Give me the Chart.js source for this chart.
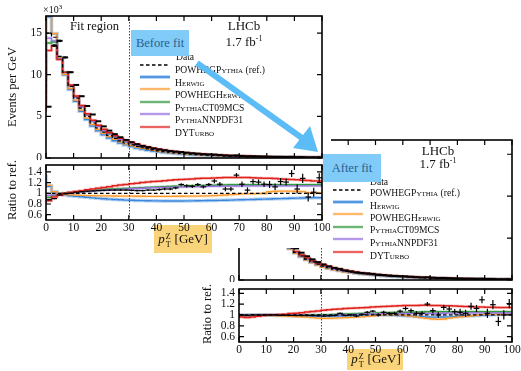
<!DOCTYPE html>
<html><head><meta charset="utf-8">
<script src="https://cdn.jsdelivr.net/npm/chart.js@4"></script>
<style>
body{margin:0;width:521px;height:371px;overflow:hidden;background:#fff;font-family:"Liberation Serif","DejaVu Serif",serif;position:relative;color:#111}
.a{position:absolute;white-space:nowrap}
canvas{position:absolute}
.sc{font-variant:small-caps}
.rot{transform:translate(-50%,-50%) rotate(-90deg);font-size:12.5px}
.leg{font-size:9.6px;line-height:1}
.ss{display:inline-block;font-size:0.62em;line-height:1;vertical-align:-0.45em;margin-left:1px;margin-right:4px}
.ss span{display:block}
.ybox{position:absolute;background:#f9d47a;mix-blend-mode:multiply}
.bbox{position:absolute;background:#80cbf8;color:#2a5f8c;font-size:12.5px;text-align:center}
</style></head><body>
<script>
// ---------------- data ----------------
const edges=[0,2,4,6,8,10,12,14,16,18,20,22,24,26,28,30,32,34,36,38,40,42,44,46,48,50,52,54,56,58,60,62,64,66,68,70,72,74,76,78,80,82,84,86,88,90,92,94,96,98,100];
const xTicks=[0,10,20,30,40,50,60,70,80,90,100];
const mainYTicks=[0,5,10,15];
const ratioYTicks=[0.6,0.8,1,1.2,1.4];
const ratioYLabels=['0.6','0.8','1','1.2','1.4'];
const fitEdge=30;
// reference POWHEGPythia before fit (x10^3 events per GeV)
const refBefore=[7.0,15.0,14.5,12.2,10.3,8.6,7.2,6.0,5.0,4.2,
 3.6,3.1,2.7,2.35,2.05,1.8,1.58,1.39,1.23,1.09,
 0.97,0.86,0.77,0.69,0.62,0.56,0.50,0.45,0.41,0.37,
 0.335,0.305,0.278,0.253,0.23,0.21,0.192,0.176,0.161,0.148,
 0.136,0.125,0.115,0.106,0.098,0.091,0.084,0.078,0.072,0.067];
// reference after fit
const refAfter=[6.2,13.6,14.1,12.1,10.3,8.75,7.4,6.24,5.22,4.41,
 3.8,3.29,2.86,2.49,2.17,1.9,1.66,1.46,1.29,1.15,
 1.03,0.925,0.835,0.755,0.685,0.625,0.568,0.515,0.47,0.428,
 0.39,0.357,0.327,0.299,0.274,0.252,0.232,0.214,0.197,0.182,
 0.168,0.155,0.143,0.132,0.122,0.113,0.105,0.097,0.09,0.083];
// ratios to reference, before fit
const herwigB=[1.35,1.13,1.03,0.99,0.97,0.955,0.945,0.935,0.925,0.915,
 0.905,0.897,0.890,0.884,0.878,0.873,0.869,0.866,0.863,0.861,
 0.859,0.858,0.857,0.857,0.857,0.857,0.858,0.859,0.860,0.862,
 0.864,0.866,0.868,0.870,0.873,0.876,0.879,0.882,0.885,0.888,
 0.891,0.894,0.897,0.900,0.903,0.906,0.909,0.912,0.914,0.916];
const powhegHerwigB=[1.15,1.15,1.03,0.99,0.975,0.97,0.965,0.96,0.958,0.955,
 0.953,0.951,0.95,0.949,0.948,0.947,0.946,0.945,0.945,0.944,
 0.944,0.944,0.944,0.944,0.945,0.945,0.946,0.947,0.948,0.95,
 0.953,0.957,0.962,0.968,0.975,0.982,0.988,0.99,0.992,0.994,
 0.996,1.03,1.035,1.04,1.04,1.04,1.035,1.03,1.01,1.005];
const ct09B=[0.90,0.92,0.96,0.98,1.00,1.01,1.02,1.03,1.04,1.05,
 1.06,1.07,1.075,1.08,1.085,1.09,1.095,1.10,1.105,1.11,
 1.115,1.12,1.123,1.126,1.13,1.133,1.136,1.14,1.143,1.146,
 1.15,1.152,1.154,1.156,1.158,1.16,1.16,1.16,1.16,1.16,
 1.16,1.16,1.16,1.16,1.16,1.16,1.16,1.16,1.16,1.16];
const nnpdfB=[0.95,0.96,0.97,0.98,0.995,1.005,1.015,1.025,1.035,1.045,
 1.055,1.06,1.065,1.07,1.075,1.08,1.085,1.09,1.095,1.10,
 1.105,1.108,1.111,1.114,1.117,1.12,1.122,1.124,1.126,1.128,
 1.13,1.132,1.134,1.135,1.136,1.137,1.138,1.139,1.14,1.14,
 1.14,1.14,1.14,1.14,1.14,1.14,1.14,1.14,1.14,1.14];
const dyturboB=[0.81,0.86,0.93,0.97,1.00,1.02,1.035,1.05,1.065,1.08,
 1.095,1.11,1.125,1.14,1.155,1.167,1.178,1.19,1.20,1.21,
 1.22,1.228,1.236,1.244,1.252,1.258,1.264,1.27,1.275,1.28,
 1.284,1.288,1.291,1.294,1.296,1.297,1.296,1.294,1.291,1.288,
 1.284,1.28,1.275,1.27,1.265,1.258,1.252,1.245,1.238,1.232];
const dataB=[0.88,0.90,0.97,0.99,1.00,1.02,1.03,1.04,1.045,1.05,
 1.055,1.06,1.06,1.06,1.06,1.055,1.05,1.05,1.06,1.06,
 1.07,1.08,1.08,1.10,1.165,1.14,1.13,1.165,1.12,1.165,
 1.23,1.17,1.08,1.08,1.34,1.17,1.06,1.22,1.21,1.17,
 1.165,1.12,1.22,1.21,1.37,1.08,1.28,0.93,1.02,1.29];
const dataErr=[0.01,0.01,0.01,0.01,0.01,0.01,0.01,0.01,0.01,0.01,
 0.015,0.015,0.015,0.015,0.015,0.015,0.015,0.015,0.015,0.015,
 0.022,0.022,0.022,0.022,0.022,0.03,0.03,0.03,0.03,0.03,
 0.04,0.04,0.04,0.04,0.04,0.05,0.05,0.05,0.05,0.05,
 0.065,0.065,0.065,0.065,0.065,0.085,0.085,0.085,0.085,0.085];
// ratios to reference, after fit
const herwigA=[1.0,0.99,0.99,1.0,1.0,1.0,1.0,0.995,0.99,0.99,
 0.985,0.982,0.98,0.978,0.976,0.975,0.975,0.976,0.978,0.98,
 0.983,0.986,0.99,0.993,0.996,0.998,1.0,1.0,0.998,0.995,
 0.99,0.985,0.978,0.972,0.966,0.962,0.96,0.96,0.962,0.965,
 0.97,0.975,0.98,0.985,0.99,0.995,1.0,1.005,1.01,1.015];
const powhegHerwigA=[1.0,1.0,1.0,1.0,1.0,1.0,0.995,0.99,0.985,0.98,
 0.975,0.97,0.965,0.96,0.95,0.94,0.935,0.935,0.94,0.945,
 0.95,0.955,0.96,0.965,0.975,0.985,0.995,1.0,1.0,1.0,
 1.0,0.99,0.98,0.965,0.95,0.935,0.925,0.92,0.925,0.94,
 0.955,0.965,0.975,0.985,0.995,1.005,1.01,1.01,1.01,1.01];
const ct09A=[1.0,1.0,1.0,1.0,1.0,1.0,1.0,1.0,1.0,1.0,
 1.0,1.0,1.0,1.0,1.0,1.0,1.003,1.006,1.01,1.013,
 1.016,1.02,1.023,1.026,1.03,1.033,1.036,1.039,1.042,1.045,
 1.048,1.05,1.052,1.054,1.056,1.058,1.06,1.06,1.06,1.06,
 1.06,1.06,1.06,1.06,1.06,1.06,1.06,1.06,1.06,1.06];
const nnpdfA=[1.0,1.0,1.0,1.0,1.0,1.0,1.0,1.0,1.0,1.0,
 1.0,1.0,0.998,0.996,0.994,0.992,0.992,0.994,0.996,1.0,
 1.004,1.008,1.012,1.015,1.018,1.02,1.022,1.024,1.025,1.026,
 1.027,1.028,1.028,1.028,1.028,1.029,1.03,1.031,1.032,1.033,
 1.034,1.035,1.036,1.037,1.038,1.039,1.04,1.04,1.04,1.04];
const dyturboA=[1.03,0.96,0.955,0.96,0.975,0.99,1.0,1.005,1.01,1.015,
 1.025,1.032,1.04,1.055,1.065,1.075,1.085,1.095,1.105,1.112,
 1.118,1.124,1.13,1.135,1.14,1.146,1.152,1.157,1.162,1.166,
 1.17,1.173,1.175,1.177,1.178,1.178,1.177,1.175,1.172,1.168,
 1.164,1.16,1.156,1.152,1.148,1.145,1.143,1.141,1.14,1.14];
const dataA=[1.0,0.99,1.0,1.0,1.0,1.0,1.0,0.995,0.995,0.99,
 0.99,0.99,0.99,0.99,0.985,0.98,0.985,0.99,1.03,0.99,
 1.0,0.98,1.01,1.05,1.07,1.0,1.05,1.03,1.03,1.07,
 1.12,1.08,1.03,1.03,1.2,1.08,1.0,1.14,1.11,1.06,
 1.05,1.03,1.16,1.12,1.28,1.03,1.19,0.88,1.0,1.21];
</script>

<!-- ============ plot 2 (after fit) ============ -->
<canvas id="m2" width="331" height="152" style="left:190px;top:130px"></canvas>
<canvas id="r2" width="331" height="89" style="left:190px;top:282px"></canvas>
<div class="a" style="left:207px;top:314px"><div class="rot">Ratio to ref.</div></div>
<div class="a" style="left:438px;top:143px;transform:translateX(-50%);font-size:13px">LHCb</div>
<div class="a" style="left:438px;top:156px;transform:translateX(-50%);font-size:13px">1.7 fb<sup style="font-size:8px">-1</sup></div>
<svg class="a" style="left:330px;top:170px" width="40" height="95" id="lg2"></svg>
<div class="a leg" style="left:370px;top:177px">Data</div>
<div class="a leg" style="left:370px;top:188px">POWHEG<span class="sc">Pythia</span> (ref.)</div>
<div class="a leg sc" style="left:370px;top:201px">Herwig</div>
<div class="a leg" style="left:370px;top:213px">POWHEG<span class="sc">Herwig</span></div>
<div class="a leg" style="left:370px;top:225px"><span class="sc">Pythia</span>CT09MCS</div>
<div class="a leg" style="left:370px;top:238px"><span class="sc">Pythia</span>NNPDF31</div>
<div class="a leg" style="left:370px;top:251px">DY<span class="sc">Turbo</span></div>
<div class="a" style="left:376px;top:351px;transform:translateX(-50%);font-size:13px"><i>p</i><span class="ss"><span>Z</span><span>T</span></span>[GeV]</div>

<!-- ============ plot 1 (before fit) ============ -->
<div class="a" style="left:0;top:0;width:331px;height:248px;background:#fff">
<canvas id="m1" width="330" height="160" style="left:0;top:0"></canvas>
<canvas id="r1" width="330" height="80" style="left:0;top:160px"></canvas>
<div class="a" style="left:43px;top:3px;font-size:10px">×10<sup style="font-size:7px">3</sup></div>
<div class="a" style="left:12px;top:87px"><div class="rot">Events per GeV</div></div>
<div class="a" style="left:12px;top:190px"><div class="rot">Ratio to ref.</div></div>
<div class="a" style="left:70px;top:19px;font-size:12.5px">Fit region</div>
<div class="a" style="left:244px;top:18px;transform:translateX(-50%);font-size:13px">LHCb</div>
<div class="a" style="left:244px;top:34px;transform:translateX(-50%);font-size:13px">1.7 fb<sup style="font-size:8px">-1</sup></div>
<svg class="a" style="left:137px;top:45px" width="40" height="95" id="lg1"></svg>
<div class="a leg" style="left:176px;top:52px">Data</div>
<div class="a leg" style="left:175px;top:65px">POWHEG<span class="sc">Pythia</span> (ref.)</div>
<div class="a leg sc" style="left:175px;top:78px">Herwig</div>
<div class="a leg" style="left:175px;top:90px">POWHEG<span class="sc">Herwig</span></div>
<div class="a leg" style="left:175px;top:103px"><span class="sc">Pythia</span>CT09MCS</div>
<div class="a leg" style="left:175px;top:115px"><span class="sc">Pythia</span>NNPDF31</div>
<div class="a leg" style="left:175px;top:128px">DY<span class="sc">Turbo</span></div>
<div class="a" style="left:183px;top:231px;transform:translateX(-50%);font-size:13px"><i>p</i><span class="ss"><span>Z</span><span>T</span></span>[GeV]</div>
</div>

<!-- ============ overlays ============ -->
<div class="ybox" style="left:154px;top:225px;width:58px;height:28px"></div>
<div class="ybox" style="left:347px;top:349px;width:56px;height:21px"></div>
<div class="bbox" style="left:131px;top:30px;width:58px;height:26px;line-height:26px">Before fit</div>
<div class="bbox" style="left:323px;top:154px;width:58px;height:28px;line-height:28px">After fit</div>
<svg class="a" style="left:0;top:0" width="521" height="371">
 <line x1="197" y1="63" x2="302" y2="138" stroke="#5cbdf6" stroke-width="6"/>
 <polygon points="318,152 293,148 310,126" fill="#5cbdf6"/>
</svg>

<script>
const styles={
  herwig:{c:'#3a86dc',band:'rgba(100,165,230,0.45)',w:1.4},
  phw:{c:'#ff9a2a',band:'rgba(255,180,100,0.35)',w:1.3},
  ct09:{c:'#2f9a3c',band:'rgba(80,170,90,0.35)',w:1.5},
  nnpdf:{c:'#9b6fe0',band:'rgba(170,140,230,0.35)',w:1.3},
  dyt:{c:'#e0221c',band:'rgba(240,120,120,0.4)',w:1.5}
};
function legend(id){
  const s=document.getElementById(id), y0=[7,20,32,44,57,69,82];
  let h=`<line x1="18" y1="${y0[0]-5}" x2="18" y2="${y0[0]+4}" stroke="#000" stroke-width="1.3"/>`;
  h+=`<line x1="3" y1="${y0[1]}" x2="33" y2="${y0[1]}" stroke="#000" stroke-width="1.3" stroke-dasharray="3.5,2.5"/>`;
  ['herwig','phw','ct09','nnpdf','dyt'].forEach((k,i)=>{const st=styles[k];const y=y0[i+2];
    h+=`<line x1="3" y1="${y}" x2="33" y2="${y}" stroke="${st.band}" stroke-width="${k==='herwig'?4:3}"/>`;
    h+=`<line x1="3" y1="${y}" x2="33" y2="${y}" stroke="${st.c}" stroke-width="${k==='herwig'?1.6:1.2}"/>`;});
  s.innerHTML=h;
}
legend('lg1');legend('lg2');

const hep={id:'hep',
  afterDatasetsDraw(chart,args,o){
    const {ctx,chartArea:a,scales:{x,y}}=chart;
    ctx.save();ctx.beginPath();ctx.rect(a.left,a.top,a.right-a.left,a.bottom-a.top);ctx.clip();
    chart.data.datasets.forEach((ds,di)=>{ if(!ds.errors) return;
      const meta=chart.getDatasetMeta(di);
      ctx.strokeStyle='#000';ctx.lineWidth=ds.errW;
      meta.data.forEach((p,i)=>{const v=ds.data[i].y,e=ds.errors[i];
        ctx.beginPath();ctx.moveTo(p.x,y.getPixelForValue(v+e));ctx.lineTo(p.x,y.getPixelForValue(v-e));ctx.stroke();});
    });
    const xf=Math.round(x.getPixelForValue(o.vline))+0.5;
    ctx.strokeStyle='#444';ctx.lineWidth=1;ctx.setLineDash([1.5,1.5]);
    ctx.beginPath();ctx.moveTo(xf,a.top);ctx.lineTo(xf,a.bottom);ctx.stroke();
    ctx.restore();
  },
  afterDraw(chart,args,o){
    const {ctx,chartArea:a,scales:{x,y}}=chart;
    ctx.save();ctx.strokeStyle='#000';ctx.lineWidth=1.2;ctx.setLineDash([]);
    const L=5;
    ctx.beginPath();
    x.ticks.forEach(t=>{const px=x.getPixelForValue(t.value);
      ctx.moveTo(px,a.bottom);ctx.lineTo(px,a.bottom-L);ctx.moveTo(px,a.top);ctx.lineTo(px,a.top+L);});
    y.ticks.forEach(t=>{const py=y.getPixelForValue(t.value);
      ctx.moveTo(a.left,py);ctx.lineTo(a.left+L,py);ctx.moveTo(a.right,py);ctx.lineTo(a.right-L,py);});
    ctx.stroke();
    ctx.lineWidth=1.6;ctx.strokeRect(a.left,a.top,a.right-a.left,a.bottom-a.top);
    ctx.restore();
  }
};

function histPts(vals){const p=vals.map((v,i)=>({x:edges[i],y:v}));p.push({x:edges[edges.length-1],y:vals[vals.length-1]});return p;}
function ctrPts(vals){return vals.map((v,i)=>({x:(edges[i]+edges[i+1])/2,y:v}));}
const tickFont={family:'Liberation Serif',size:11.5};
function noPad(s){s.paddingTop=0;s.paddingBottom=0;s.paddingLeft=0;s.paddingRight=0;}

function make(id,c){
  const ds=[];
  ds.push({label:'Data',data:ctrPts(c.data),errors:c.err,errW:c.dataW,showLine:false,pointStyle:'line',
    pointRadius:2.8,pointBorderWidth:c.dataW,pointBorderColor:'#000',borderColor:'#000'});
  ds.push({label:'ref',data:histPts(c.ref),stepped:'after',borderColor:'#000',borderWidth:1.2,borderDash:[3.5,2.5],pointRadius:0});
  const order=['dyt','nnpdf','ct09','phw','herwig'];
  order.forEach(k=>ds.push({label:k,data:histPts(c.models[k]),stepped:'after',borderColor:styles[k].c,borderWidth:styles[k].w,pointRadius:0}));
  order.forEach(k=>ds.push({label:k+'band',data:histPts(c.models[k]),stepped:'after',borderColor:styles[k].band,borderWidth:k==='herwig'?3.5:3,pointRadius:0}));
  new Chart(document.getElementById(id),{type:'line',data:{datasets:ds},
    options:{responsive:false,animation:false,events:[],
      layout:{autoPadding:false,padding:{top:c.padTop,right:c.padRight,left:0,bottom:0}},
      plugins:{legend:{display:false},tooltip:{enabled:false},hep:{vline:fitEdge}},
      scales:{
        x:{type:'linear',min:0,max:100,afterBuildTicks:s=>{s.ticks=xTicks.map(v=>({value:v}));},
          afterFit:s=>{s.height=c.xH;noPad(s);},grid:{display:false,drawTicks:false},border:{display:false},
          ticks:{display:c.showX,autoSkip:false,maxRotation:0,font:tickFont,color:'#111',padding:1,callback:v=>String(v)}},
        y:{type:'linear',min:c.yMin,max:c.yMax,afterBuildTicks:s=>{s.ticks=c.yTicks.map(v=>({value:v}));},
          afterFit:s=>{s.width=c.yW;noPad(s);},grid:{display:false,drawTicks:false},border:{display:false},
          ticks:{autoSkip:false,font:tickFont,color:'#111',padding:4,callback:v=>c.yLabels?c.yLabels[c.yTicks.indexOf(v)]:String(v)}}
      }},
    plugins:[hep]});
}
function times(ref,r){return ref.map((v,i)=>v*r[i]);}
make('m1',{ref:refBefore,data:times(refBefore,dataB),err:times(refBefore,dataErr),dataW:2,
  models:{herwig:times(refBefore,herwigB),phw:times(refBefore,powhegHerwigB),ct09:times(refBefore,ct09B),nnpdf:times(refBefore,nnpdfB),dyt:times(refBefore,dyturboB)},
  yMin:0,yMax:17.05,yTicks:mainYTicks,padTop:16,padRight:8,yW:46,xH:2,showX:false});
make('r1',{ref:refBefore.map(v=>v/v),data:dataB,err:dataErr,dataW:1.2,
  models:{herwig:herwigB,phw:powhegHerwigB,ct09:ct09B,nnpdf:nnpdfB,dyt:dyturboB},
  yMin:0.5,yMax:1.53,yTicks:ratioYTicks,yLabels:ratioYLabels,padTop:5,padRight:8,yW:46,xH:20,showX:true});
make('m2',{ref:refAfter,data:times(refAfter,dataA),err:times(refAfter,dataErr),dataW:2,
  models:{herwig:times(refAfter,herwigA),phw:times(refAfter,powhegHerwigA),ct09:times(refAfter,ct09A),nnpdf:times(refAfter,nnpdfA),dyt:times(refAfter,dyturboA)},
  yMin:0,yMax:16.7,yTicks:mainYTicks,padTop:10,padRight:9,yW:49,xH:2,showX:false});
make('r2',{ref:refAfter.map(v=>v/v),data:dataA,err:dataErr,dataW:1.2,
  models:{herwig:herwigA,phw:powhegHerwigA,ct09:ct09A,nnpdf:nnpdfA,dyt:dyturboA},
  yMin:0.5,yMax:1.48,yTicks:ratioYTicks,yLabels:ratioYLabels,padTop:7,padRight:9,yW:49,xH:29,showX:true});
</script>
</body></html>
